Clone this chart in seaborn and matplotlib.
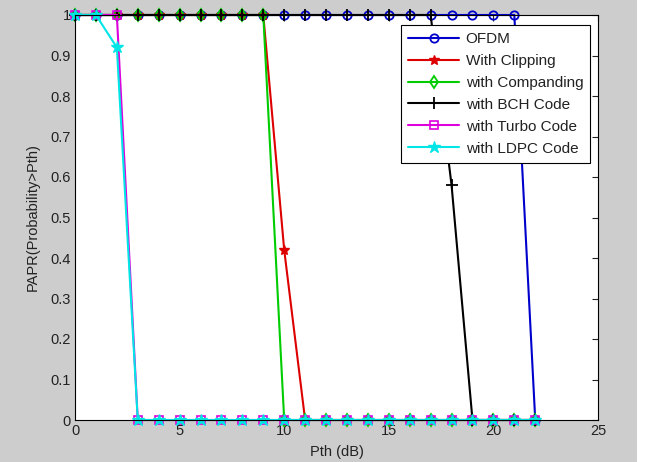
import numpy as np
import pandas as pd
import seaborn as sns
import matplotlib
matplotlib.use("Agg")
import matplotlib.pyplot as plt
from matplotlib.patches import Rectangle

# ---- data ----
pth = list(range(0, 23))
ofdm       = [1]*22 + [0]
clipping   = [1]*10 + [0.42] + [0]*12
companding = [1]*10 + [0]*13
bch        = [1]*18 + [0.58] + [0]*4
turbo      = [1]*3 + [0]*20
ldpc       = [1, 1, 0.92] + [0]*20

labels = ["OFDM", "With Clipping", "with Companding", "with BCH Code",
          "with Turbo Code", "with LDPC Code"]
series = [ofdm, clipping, companding, bch, turbo, ldpc]

sns.set_theme(style="white")
plt.rcParams['font.family'] = ['Liberation Sans', 'DejaVu Sans']

fig = plt.figure(figsize=(6.72, 4.62), dpi=100)
fig.patch.set_facecolor('#cdcdcd')
# white strip at right (outside captured figure)
fig.patches.append(Rectangle((637/672, 0), 1, 1, transform=fig.transFigure,
                             facecolor='white', edgecolor='none', zorder=-1))
ax = fig.add_axes([75/672, 1-420/462, (598-75)/672, (420-15)/462])
ax.set_facecolor('white')

styles = [
    dict(color='#0000cc', marker='o', mfc='none', ms=6, mew=1.3),
    dict(color='#dd0000', marker='*', mfc='#dd0000', ms=7, mew=1.0),
    dict(color='#00cc00', marker='d', mfc='none', ms=6, mew=1.3),
    dict(color='#000000', marker='+', mfc='none', ms=8, mew=1.3),
    dict(color='#dd00dd', marker='s', mfc='none', ms=6, mew=1.2),
    dict(color='#00e5e5', marker='*', mfc='#00e5e5', ms=9, mew=1.0),
]

for lab, y, st in zip(labels, series, styles):
    df = pd.DataFrame({"Pth": pth, "P": y})
    sns.lineplot(data=df, x="Pth", y="P", ax=ax, label=lab, color=st['color'],
                 marker=st['marker'], markerfacecolor=st['mfc'],
                 markeredgecolor=st['color'], markersize=st['ms'],
                 markeredgewidth=st['mew'], linewidth=1.5, clip_on=False)

ax.set_xlim(0, 25)
ax.set_ylim(0, 1)
ax.set_xticks([0, 5, 10, 15, 20, 25])
ax.set_yticks(np.arange(0, 1.01, 0.1))
ax.set_yticklabels(["0", "0.1", "0.2", "0.3", "0.4", "0.5", "0.6", "0.7", "0.8", "0.9", "1"])
ax.tick_params(direction='in', length=4, width=0.8, top=True, right=True,
               labelsize=10.5, colors='#222222', pad=3)
for sp in ax.spines.values():
    sp.set_color('black')
    sp.set_linewidth(0.8)
    sp.set_visible(True)

ax.set_xlabel("Pth (dB)", fontsize=10.5, color='#222222', labelpad=5)
ax.set_ylabel("PAPR(Probability>Pth)", fontsize=10.5, color='#222222', labelpad=8)

leg = ax.legend(loc='upper right', bbox_to_anchor=(0.985, 0.975), borderaxespad=0,
                fontsize=11, frameon=True, fancybox=False, framealpha=1,
                edgecolor='black', borderpad=0.45, labelspacing=0.52,
                handlelength=3.3, handletextpad=0.45)
leg.get_frame().set_linewidth(0.8)
for t in leg.get_texts():
    t.set_color('#222222')

fig.savefig("out.png", dpi=100, facecolor=fig.get_facecolor())
